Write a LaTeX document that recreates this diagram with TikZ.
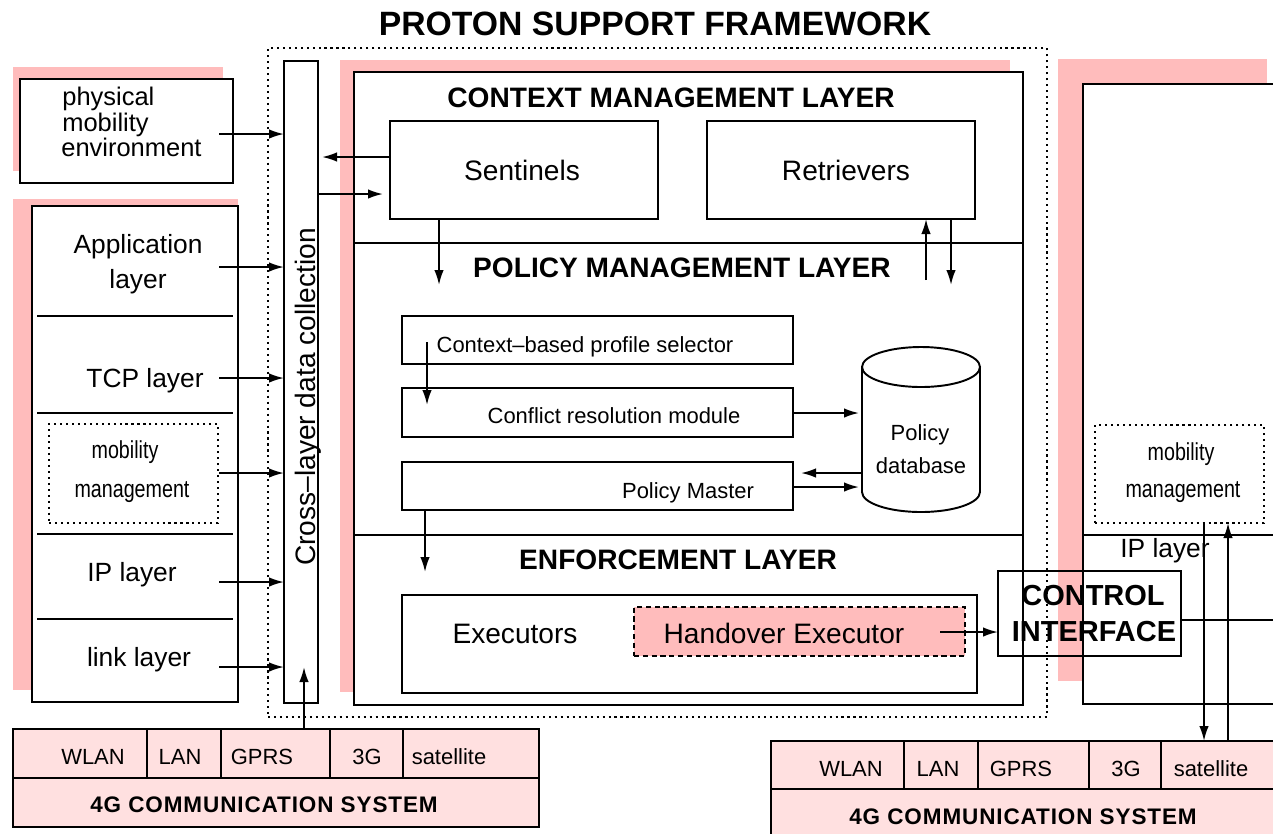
\documentclass[tikz,border=0pt]{standalone}
\usepackage{fontspec}
\setmainfont{Liberation Sans}
\newfontfamily\narrowsf{Liberation Sans}[FakeStretch=0.8]
\newfontfamily\spacedsf{Liberation Sans}[LetterSpace=4]
\usetikzlibrary{arrows.meta}
\definecolor{shpink}{RGB}{255,188,188}
\definecolor{lpink}{RGB}{255,224,224}
\newcommand\myfs[1]{\fontsize{#1}{#1}\selectfont}
\newcommand\mkbox[6]{\node[#6, minimum width={(#4-#2)*0.02cm}, minimum height={(#5-#3)*0.02cm}] (#1) at ({(#2+#4)/2},{(#3+#5)/2}) {};}
\begin{document}
\begin{tikzpicture}[x=0.02cm, y=-0.02cm,
  box/.style={draw, line width=1.1pt, inner sep=0pt, outer sep=0pt, rectangle},
  dotbox/.style={draw, line width=1.3pt, dash pattern=on 1.2pt off 2.2pt, inner sep=0pt, outer sep=0pt, rectangle},
  dashbox/.style={draw, line width=1.1pt, dash pattern=on 3pt off 2pt, inner sep=0pt, outer sep=0pt, rectangle},
  ln/.style={line width=1.1pt},
  arr/.style={line width=1.1pt, -{Latex[length=0.3cm,width=0.19cm]}},
  lbl/.style={anchor=base, inner sep=0pt, font=\myfs{15}},
  big/.style={anchor=base, inner sep=0pt, font=\myfs{16}},
  hd/.style={anchor=base, inner sep=0pt, font=\bfseries\myfs{16}},
  sm/.style={anchor=base, inner sep=0pt, font=\myfs{12.5}},
  nar/.style={anchor=base, inner sep=0pt, font=\narrowsf\myfs{14}},
  cell/.style={anchor=base, inner sep=0pt, font=\myfs{12.5}},
  sys/.style={anchor=base, inner sep=0pt, font=\spacedsf\bfseries\myfs{12.8}}]
\useasboundingbox (0,0) rectangle (1273,833);
\clip (0,0) rectangle (1273,833);
\fill[white] (0,0) rectangle (1273,833);

% title and outer dotted frame
\node[anchor=base, inner sep=0pt, font=\bfseries\myfs{19.2}] (title) at (655,35) {PROTON SUPPORT FRAMEWORK};
\mkbox{psf}{268}{48}{1047}{717}{dotbox}

% left: physical mobility environment
\fill[shpink] (13,67) rectangle (223,171);
\mkbox{phys}{20}{79}{233}{183}{box, fill=white}
\node[anchor=base west, inner sep=0pt, font=\myfs{14.5}] (physA) at (62,105) {physical};
\node[anchor=base west, inner sep=0pt, font=\myfs{14.5}] (physB) at (62,131) {mobility};
\node[anchor=base west, inner sep=0pt, font=\myfs{14.5}] (physC) at (61,156) {environment};

% left: protocol stack
\fill[shpink] (13,199) rectangle (238,690);
\mkbox{stack}{32}{206}{238}{702}{box, fill=white}
\draw[ln] (37,316) -- (233,316);
\draw[ln] (37,413) -- (233,413);
\draw[ln] (37,534) -- (233,534);
\draw[ln] (37,619) -- (233,619);
\mkbox{mobL}{49}{424}{218}{523}{dotbox}
\node[lbl] (appA) at (138,253) {Application};
\node[lbl] (appB) at (138,288) {layer};
\node[lbl] (tcp) at (145,387) {TCP layer};
\node[nar] (mobLa) at (125,458) {mobility};
\node[nar] (mobLb) at (132,497) {management};
\node[lbl] (ipL) at (132,581) {IP layer};
\node[lbl] (link) at (139,666) {link layer};

% cross-layer data collection
\mkbox{cross}{284}{61}{318}{703}{box, fill=white}
\node[rotate=90, anchor=base, inner sep=0pt, font=\myfs{16}] (crosst) at (315,397) {Cross–layer data collection};

% middle framework box
\fill[shpink] (340,60) rectangle (1010,692);
\mkbox{mid}{354}{72}{1023}{705}{box, fill=white}
\draw[ln] (354,243) -- (1023,243);
\draw[ln] (354,535) -- (1023,535);
\node[hd] (ctxh) at (671,107) {CONTEXT MANAGEMENT LAYER};
\node[hd] (polh) at (682,277) {POLICY MANAGEMENT LAYER};
\node[hd] (enfh) at (678,569) {ENFORCEMENT LAYER};

\mkbox{sent}{390}{121}{658}{219}{box}
\mkbox{retr}{707}{121}{975}{219}{box}
\node[big] (sentt) at (522,180) {Sentinels};
\node[big] (retrt) at (846,180) {Retrievers};

\mkbox{prof}{402}{316}{793}{364}{box}
\mkbox{conf}{402}{388}{793}{437}{box}
\mkbox{master}{402}{462}{793}{510}{box}
\node[sm] (proft) at (585,352) {Context–based profile selector};
\node[sm] (conft) at (614,423) {Conflict resolution module};
\node[sm] (mastert) at (688,498) {Policy Master};

% policy database cylinder
\node[inner sep=0pt, outer sep=0pt, minimum width=2.36cm, minimum height=3.3cm] (db) at (921,429.5) {};
\draw[ln, fill=white] (862,367) -- (862,492) arc (180:360:1.18cm and 0.4cm) -- (980,367);
\draw[ln] (921,367) ellipse [x radius=1.18cm, y radius=0.4cm];
\node[sm] (dbA) at (920,440) {Policy};
\node[sm] (dbB) at (921,473) {database};

\mkbox{exec}{402}{595}{977}{693}{box}
\mkbox{hand}{634}{607}{965}{656}{dashbox, fill=shpink}
\node[big] (exect) at (515,643) {Executors};
\node[big] (handt) at (784,643) {Handover Executor};

% right system
\fill[shpink] (1058,59) rectangle (1267,681);
\mkbox{rsys}{1083}{84}{1290}{704}{box, fill=white}
\draw[ln] (1083,535) -- (1290,535);
\draw[ln] (1181,620) -- (1290,620);
\mkbox{mobR}{1095}{425}{1264}{523}{dotbox}
\node[nar] (mobRa) at (1181,460) {mobility};
\node[nar] (mobRb) at (1183,497) {management};
\node[lbl] (ipR) at (1165,557) {IP layer};

% control interface (unfilled, drawn over lines)
\mkbox{ci}{998}{571}{1181}{656}{box}
\node[anchor=base, inner sep=0pt, font=\bfseries\myfs{16.5}] (ciA) at (1093,605) {CONTROL};
\node[anchor=base, inner sep=0pt, font=\bfseries\myfs{16.5}] (ciB) at (1094,641) {INTERFACE};

% 4G communication systems
\mkbox{gL}{13}{729}{539}{827}{box, fill=lpink}
\draw[ln] (13,778) -- (539,778);
\draw[ln] (147,729) -- (147,778);
\draw[ln] (221,729) -- (221,778);
\draw[ln] (330,729) -- (330,778);
\draw[ln] (403,729) -- (403,778);
\node[cell] (gLa) at (93,764) {WLAN};
\node[cell] (gLb) at (180,764) {LAN};
\node[cell] (gLc) at (262,764) {GPRS};
\node[cell] (gLd) at (367,764) {3G};
\node[cell] (gLe) at (449,764) {satellite};
\node[sys] (gLt) at (264,812) {4G COMMUNICATION SYSTEM};

\mkbox{gR}{771}{741}{1295}{845}{box, fill=lpink}
\draw[ln] (771,789) -- (1295,789);
\draw[ln] (904,741) -- (904,789);
\draw[ln] (978,741) -- (978,789);
\draw[ln] (1089,741) -- (1089,789);
\draw[ln] (1161,741) -- (1161,789);
\node[cell] (gRa) at (851,776) {WLAN};
\node[cell] (gRb) at (938,776) {LAN};
\node[cell] (gRc) at (1021,776) {GPRS};
\node[cell] (gRd) at (1126,776) {3G};
\node[cell] (gRe) at (1211,776) {satellite};
\node[sys] (gRt) at (1023,824) {4G COMMUNICATION SYSTEM};

% connectors: left layers into cross-layer collection
\coordinate (sP) at (219,134);
\coordinate (sA) at (219,267);
\coordinate (sT) at (219,378);
\coordinate (sM) at (219,473);
\coordinate (sI) at (219,582);
\coordinate (sL) at (219,667);
\draw[arr] (sP) -- (sP -| cross.west);
\draw[arr] (sA) -- (sA -| cross.west);
\draw[arr] (sT) -- (sT -| cross.west);
\draw[arr] (sM) -- (sM -| cross.west);
\draw[arr] (sI) -- (sI -| cross.west);
\draw[arr] (sL) -- (sL -| cross.west);
\coordinate (gLin) at (304,667);
\draw[arr] (gL.north -| gLin) -- (gLin);

% sentinels <-> cross-layer
\draw[arr, shorten >=0.08cm] (sent.west |- 0,157) -- (cross.east |- 0,157);
\draw[arr, shorten >=0.14cm] (cross.east |- 0,194) -- (sent.west |- 0,194);

% context -> policy
\coordinate (sd) at (439,285);
\draw[arr] (sent.south -| sd) -- (sd);
\coordinate (ru) at (926,280);
\draw[arr] (ru) -- (retr.south -| ru);
\coordinate (rd) at (951,285);
\draw[arr] (retr.south -| rd) -- (rd);

% policy internal
\coordinate (pc1) at (427,342);
\coordinate (pc2) at (427,405);
\draw[arr] (pc1) -- (pc2);
\draw[arr, shorten >=0.06cm] (conf.east |- 0,413) -- (db.west |- 0,413);
\draw[arr, shorten >=0.16cm] (db.west |- 0,473) -- (master.east |- 0,473);
\draw[arr, shorten >=0.06cm] (master.east |- 0,487) -- (db.west |- 0,487);
\coordinate (pe) at (425,572);
\draw[arr] (master.south -| pe) -- (pe);

% handover -> control interface
\coordinate (hs) at (940,632);
\draw[arr] (hs) -- (hs -| ci.west);

% right mobility <-> satellite
\coordinate (rdn) at (1204,0);
\coordinate (rup) at (1228,0);
\draw[arr] (mobR.south -| rdn) -- (gR.north -| rdn);
\draw[arr] (gR.north -| rup) -- (mobR.south -| rup);
\end{tikzpicture}
\end{document}
